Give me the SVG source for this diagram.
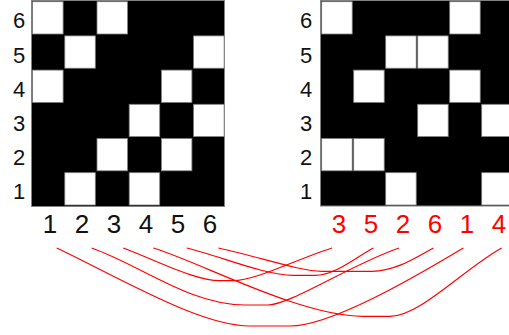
<svg xmlns="http://www.w3.org/2000/svg" width="509" height="335" viewBox="0 0 509 335">
<style>
.bg{fill:#000;stroke:#808080;stroke-width:1}
.w{fill:#fff;stroke:#808080;stroke-width:0.8}
.rl{font-family:"Liberation Sans",Arial,sans-serif;font-size:22px;fill:#111;text-anchor:middle}
.cl{font-family:"Liberation Sans",Arial,sans-serif;font-size:26px;fill:#111;text-anchor:middle}
.red{fill:#ff0000}
.c{fill:none;stroke:#ff0000;stroke-width:1.2}
</style>
<rect width="509" height="335" fill="#fff"/>
<g id="left-grid">
<rect class="bg" x="31.5" y="0.5" width="193" height="206"/>
<rect class="w" x="32.6" y="1.7" width="30.5" height="32.3"/>
<rect class="w" x="97" y="1.7" width="30.5" height="32.3"/>
<rect class="w" x="64.8" y="35.9" width="30.5" height="32.3"/>
<rect class="w" x="193.6" y="35.9" width="30.5" height="32.3"/>
<rect class="w" x="32.6" y="70.1" width="30.5" height="32.3"/>
<rect class="w" x="161.4" y="70.1" width="30.5" height="32.3"/>
<rect class="w" x="129.2" y="104.3" width="30.5" height="32.3"/>
<rect class="w" x="193.6" y="104.3" width="30.5" height="32.3"/>
<rect class="w" x="97" y="138.5" width="30.5" height="32.3"/>
<rect class="w" x="161.4" y="138.5" width="30.5" height="32.3"/>
<rect class="w" x="64.8" y="172.7" width="30.5" height="32.3"/>
<rect class="w" x="129.2" y="172.7" width="30.5" height="32.3"/>
<text class="rl" x="19" y="28.3">6</text>
<text class="rl" x="19" y="62.5">5</text>
<text class="rl" x="19" y="96.7">4</text>
<text class="rl" x="19" y="130.9">3</text>
<text class="rl" x="19" y="165.1">2</text>
<text class="rl" x="19" y="199.3">1</text>
<text class="cl" x="50" y="233">1</text>
<text class="cl" x="82" y="233">2</text>
<text class="cl" x="114" y="233">3</text>
<text class="cl" x="146" y="233">4</text>
<text class="cl" x="178" y="233">5</text>
<text class="cl" x="210" y="233">6</text>
</g>
<g id="right-grid">
<rect class="bg" x="320.5" y="0.5" width="194" height="205.5"/>
<rect class="w" x="321.7" y="1.7" width="30.5" height="32.3"/>
<rect class="w" x="449.7" y="1.7" width="30.5" height="32.3"/>
<rect class="w" x="385.7" y="35.9" width="30.5" height="32.3"/>
<rect class="w" x="417.7" y="35.9" width="30.5" height="32.3"/>
<rect class="w" x="353.7" y="70.1" width="30.5" height="32.3"/>
<rect class="w" x="449.7" y="70.1" width="30.5" height="32.3"/>
<rect class="w" x="417.7" y="104.3" width="30.5" height="32.3"/>
<rect class="w" x="481.7" y="104.3" width="30.5" height="32.3"/>
<rect class="w" x="321.7" y="138.5" width="30.5" height="32.3"/>
<rect class="w" x="353.7" y="138.5" width="30.5" height="32.3"/>
<rect class="w" x="385.7" y="172.7" width="30.5" height="32.3"/>
<rect class="w" x="481.7" y="172.7" width="30.5" height="32.3"/>
<text class="rl" x="306" y="28.3">6</text>
<text class="rl" x="306" y="62.5">5</text>
<text class="rl" x="306" y="96.7">4</text>
<text class="rl" x="306" y="130.9">3</text>
<text class="rl" x="306" y="165.1">2</text>
<text class="rl" x="306" y="199.3">1</text>
<text class="cl red" x="339" y="233">3</text>
<text class="cl red" x="371" y="233">5</text>
<text class="cl red" x="403" y="233">2</text>
<text class="cl red" x="435" y="233">6</text>
<text class="cl red" x="467" y="233">1</text>
<text class="cl red" x="499" y="233">4</text>
</g>
<g id="connectors">
<path class="c" d="M56.7,248 C120,278 200,326 250,326 L290,326 C330,326 410,280 463.3,248"/>
<path class="c" d="M91.7,248 C140,265 190,305 245,305 L268,305 C290,305 350,265 399,248"/>
<path class="c" d="M123.3,248 C160,262 195,280.7 220,280.7 L233,280.7 C255,280.7 295,260 332,248"/>
<path class="c" d="M153.3,248 C200,262 300,316.3 363,316.3 L390,316.3 C420,316.3 465,268 501.7,248"/>
<path class="c" d="M186.7,248 C220,256 265,275.3 293,275.3 L315,275.3 C335,275.3 355,258 373.3,248"/>
<path class="c" d="M218.3,248 C260,257 300,271.3 322,271.3 L372,271.3 C395,271.3 415,258 433.3,248"/>
</g>
</svg>
